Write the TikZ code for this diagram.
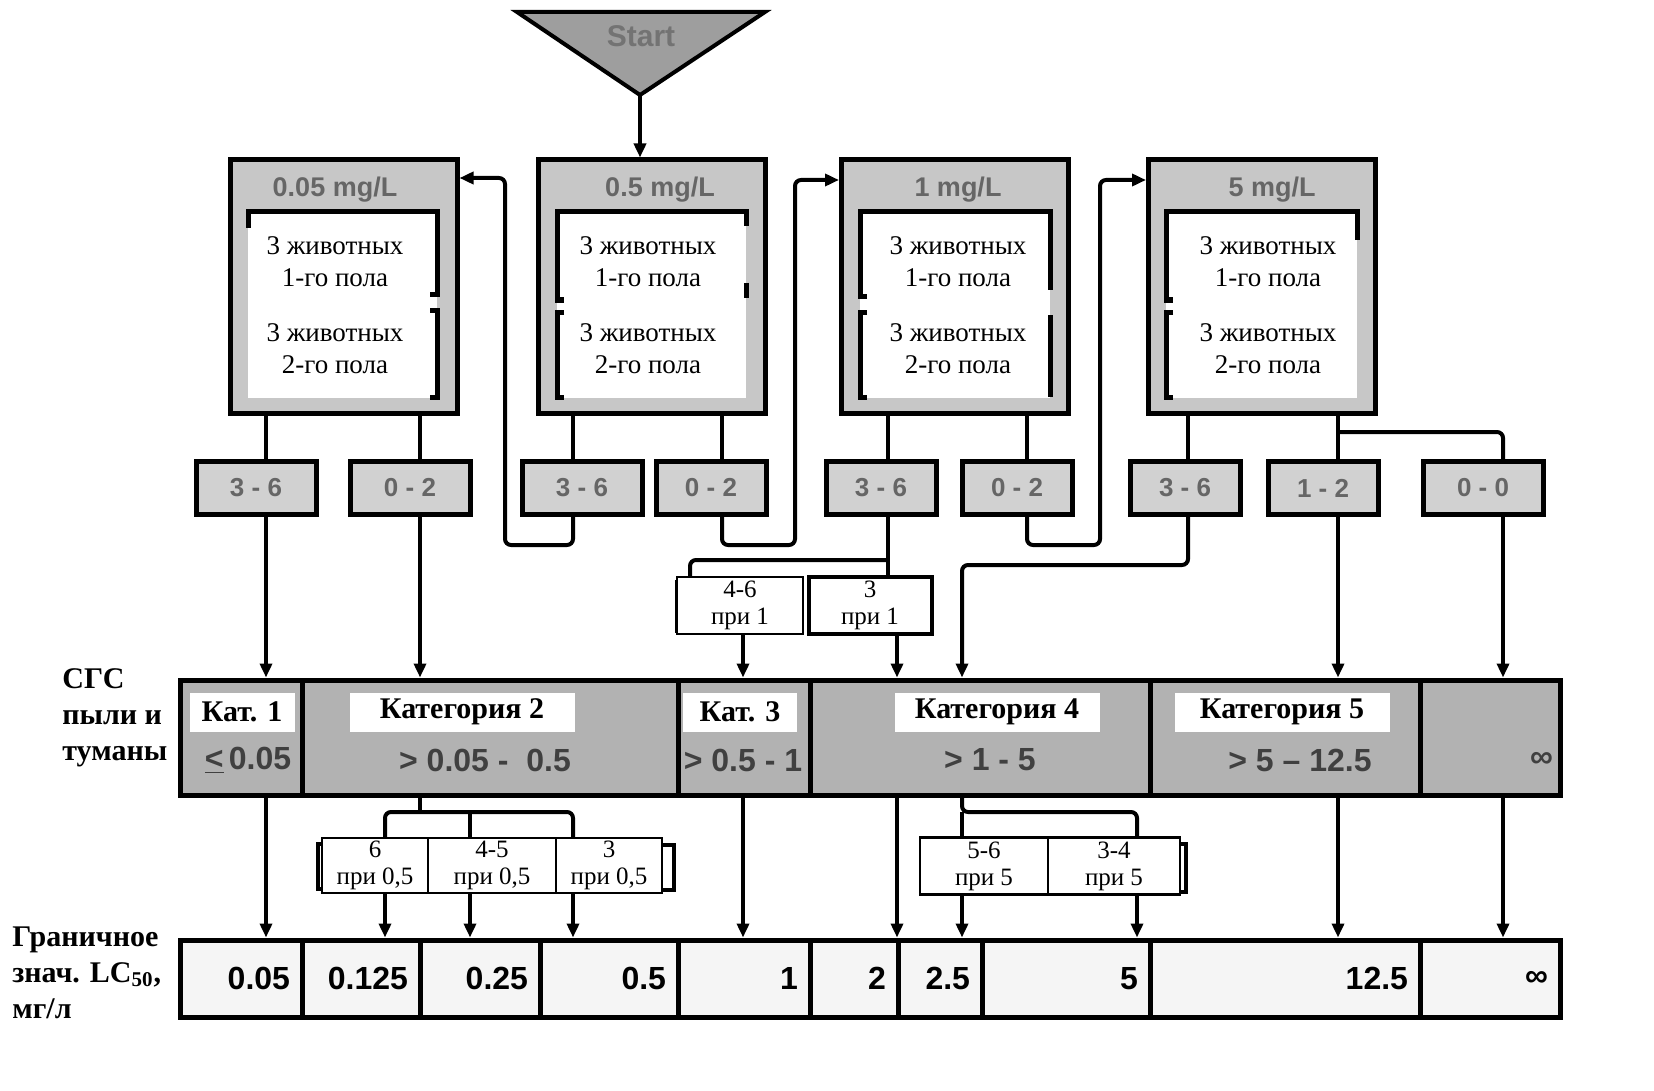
\documentclass[tikz,border=0pt]{standalone}
\usepackage{fontspec}
\setmainfont{Liberation Serif}
\setsansfont{Liberation Sans}
\usetikzlibrary{arrows.meta}
\definecolor{startgray}{gray}{0.62}
\definecolor{framegray}{gray}{0.78}
\definecolor{rangegray}{gray}{0.82}
\definecolor{catgray}{gray}{0.70}
\definecolor{cellgray}{gray}{0.96}
\begin{document}
\begin{tikzpicture}[x=0.5pt,y=-0.5pt,
    >={Triangle[length=7pt,width=6pt]},
    link/.style={line width=2pt,rounded corners=3pt},
    dosebox/.style={draw,line width=2.5pt,fill=framegray,minimum width=113.5pt,minimum height=126.5pt,inner sep=0pt},
    dosetitle/.style={font=\sffamily\bfseries\fontsize{13.5}{16}\selectfont,text=black!60},
    animals/.style={align=center,font=\fontsize{13.5}{16}\selectfont},
    bracket/.style={line width=2.5pt},
    rangebox/.style={draw,line width=2.5pt,fill=rangegray,minimum height=26.5pt,minimum width=60pt,inner sep=0pt,font=\sffamily\bfseries\fontsize{13}{15}\selectfont,text=black!60},
    retest/.style={draw,line width=1.2pt,fill=white,minimum height=28.5pt,inner sep=0.5pt,align=center,font=\fontsize{12.5}{13.5}\selectfont},
    catcell/.style={draw,line width=2.5pt,fill=catgray,minimum height=57.5pt,inner sep=0pt},
    catname/.style={fill=white,minimum height=19.5pt,inner sep=0pt,font=\bfseries\fontsize{15}{18}\selectfont},
    catrange/.style={font=\sffamily\bfseries\fontsize{16}{18}\selectfont,text=black!75},
    limcell/.style={draw,line width=2.5pt,fill=cellgray,minimum height=38.5pt,inner xsep=6pt,inner ysep=0pt,align=right,font=\sffamily\bfseries\fontsize{16}{18}\selectfont},
    rowlabel/.style={align=left,inner sep=0pt,font=\bfseries\fontsize{15}{18}\selectfont}]
    \useasboundingbox (0,0) rectangle (1654,1091);
    %% Start
    \draw[line width=2pt,fill=startgray] (517,12) -- (765,12) -- (640,95) -- cycle;
    \node[font=\sffamily\bfseries\fontsize{15}{18}\selectfont,text=black!55] (start) at (641,36) {Start};
    \coordinate (apex) at (640,95);
    %% dose boxes
    \node[dosebox] (box1) at (343.5,286.5) {};
    \node[dosebox] (box2) at (652,286.5) {};
    \node[dosebox] (box3) at (955,286.5) {};
    \node[dosebox] (box4) at (1262,286.5) {};
    \node[dosetitle] (t1) at (335,190) {0.05 mg/L};
    \node[dosetitle] (t2) at (660,190) {0.5 mg/L};
    \node[dosetitle] (t3) at (958,190) {1 mg/L};
    \node[dosetitle] (t4) at (1272,190) {5 mg/L};
    \fill[white] (248,212) rectangle (437,398);
    \fill[white] (557,212) rectangle (746,398);
    \fill[white] (860,212) rectangle (1050,398);
    \fill[white] (1166,212) rectangle (1357,398);
    %% brackets
    \draw[bracket] (248,228) -- (248,212) -- (437,212) -- (437,295) -- (430,295);
    \draw[bracket] (430,310) -- (437,310) -- (437,397) -- (430,397);
    \draw[bracket] (746,226) -- (746,212) -- (557,212) -- (557,300) -- (564,300);
    \draw[bracket] (564,312) -- (557,312) -- (557,397) -- (564,397);
    \draw[bracket] (746,283) -- (746,298);
    \draw[bracket] (867,297) -- (860,297) -- (860,212) -- (1050,212) -- (1050,290);
    \draw[bracket] (867,312) -- (860,312) -- (860,397) -- (867,397);
    \draw[bracket] (1050,315) -- (1050,397);
    \draw[bracket] (1357,240) -- (1357,212) -- (1166,212) -- (1166,300) -- (1173,300);
    \draw[bracket] (1173,312) -- (1166,312) -- (1166,397) -- (1173,397);
    \node[animals] (a1) at (335,262) {3 животных\\1-го пола};
    \node[animals] (b1) at (335,349) {3 животных\\2-го пола};
    \node[animals] (a2) at (648,262) {3 животных\\1-го пола};
    \node[animals] (b2) at (648,349) {3 животных\\2-го пола};
    \node[animals] (a3) at (958,262) {3 животных\\1-го пола};
    \node[animals] (b3) at (958,349) {3 животных\\2-го пола};
    \node[animals] (a4) at (1268,262) {3 животных\\1-го пола};
    \node[animals] (b4) at (1268,349) {3 животных\\2-го пола};
    %% outcomes
    \node[rangebox] (b1a) at (256,488) {3 - 6};
    \node[rangebox] (b1b) at (410,488) {0 - 2};
    \node[rangebox] (b2a) at (582,488) {3 - 6};
    \node[rangebox,minimum width=55pt] (b2b) at (711,488) {0 - 2};
    \node[rangebox,minimum width=55pt] (b3a) at (881,488) {3 - 6};
    \node[rangebox,minimum width=55pt] (b3b) at (1017,488) {0 - 2};
    \node[rangebox,minimum width=55pt] (b4a) at (1185,488) {3 - 6};
    \node[rangebox,minimum width=55pt] (b4b) at (1323,488) {1 - 2};
    \node[rangebox] (b4c) at (1483,488) {0 - 0};
    %% retest boxes
    \draw[line width=2pt] (683,582) -- (677,582) -- (677,631) -- (683,631);
    \node[retest,minimum width=63pt] (p1a) at (740,605.5) {4-6\\при 1};
    \node[retest,minimum width=61.5pt,line width=2pt] (p1b) at (870,605.5) {3\\при 1};
    \draw[line width=2pt] (325,844) -- (318,844) -- (318,889) -- (325,889);
    \draw[line width=2pt] (662,845) -- (674,845) -- (674,890) -- (662,890);
    \node[retest,minimum width=53pt,minimum height=27.5pt] (q1) at (375,865.5) {6\\при 0,5};
    \node[retest,minimum width=64pt,minimum height=27.5pt] (q2) at (492,865.5) {4-5\\при 0,5};
    \node[retest,minimum width=53pt,minimum height=27.5pt] (q3) at (609,865.5) {3\\при 0,5};
    \draw[line width=2pt] (1180,844) -- (1186,844) -- (1186,892) -- (1180,892);
    \node[retest,minimum width=64pt] (r1) at (984,866) {5-6\\при 5};
    \node[retest,minimum width=66pt] (r2) at (1114,866) {3-4\\при 5};
    %% categories
    \node[catcell,minimum width=61pt] (c1) at (241,737.5) {};
    \node[catcell,minimum width=188pt] (c2) at (490,737.5) {};
    \node[catcell,minimum width=66pt] (c3) at (744,737.5) {};
    \node[catcell,minimum width=170pt] (c4) at (980,737.5) {};
    \node[catcell,minimum width=135pt] (c5) at (1285,737.5) {};
    \node[catcell,minimum width=70pt] (c6) at (1490,737.5) {};
    \node[catname,minimum width=52.5pt] (n1) at (242,712) {Кат. 1};
    \node[catname,minimum width=112.5pt] (n2) at (462,712) {Категория 2};
    \node[catname,minimum width=57pt] (n3) at (740,712) {Кат. 3};
    \node[catname,minimum width=102.5pt] (n4) at (997,712) {Категория 4};
    \node[catname,minimum width=107.5pt] (n5) at (1282,712) {Категория 5};
    \node[catrange] (g1) at (248,760) {\underline{<}\,0.05};
    \node[catrange] (g2) at (485,760) {> 0.05 -\ \ 0.5};
    \node[catrange] (g3) at (743,760) {> 0.5 - 1};
    \node[catrange] (g4) at (990,760) {> 1 - 5};
    \node[catrange] (g5) at (1300,760) {> 5 – 12.5};
    \node[catrange,anchor=east] (g6) at (1560,760) {∞};
    %% limit values
    \node[limcell,text width=49pt] (v1) at (241,978.5) {0.05};
    \node[limcell,text width=47pt] (v2) at (361,978.5) {0.125};
    \node[limcell,text width=48pt] (v3) at (480,978.5) {0.25};
    \node[limcell,text width=57pt] (v4) at (609,978.5) {0.5};
    \node[limcell,text width=54pt] (v5) at (744,978.5) {1};
    \node[limcell,text width=32pt] (v6) at (854,978.5) {2};
    \node[limcell,text width=30pt] (v7) at (940,978.5) {2.5};
    \node[limcell,text width=72pt] (v8) at (1066,978.5) {5};
    \node[limcell,text width=123pt] (v9) at (1285,978.5) {12.5};
    \node[limcell,text width=58pt] (v10) at (1490,978.5) {∞};
    %% row labels
    \node[rowlabel,anchor=north west] (ghs) at (62,668) {СГС\\пыли и\\туманы};
    \node[rowlabel,anchor=north west] (lim) at (12,926) {Граничное\\знач. LC\textsubscript{50},\\мг/л};
    %% line columns
    \coordinate (k1) at (266,0);
    \coordinate (k2) at (420,0);
    \coordinate (k3) at (573,0);
    \coordinate (k4) at (722,0);
    \coordinate (k5) at (888,0);
    \coordinate (k6) at (1027,0);
    \coordinate (k7) at (1188,0);
    \coordinate (k8) at (1338,0);
    \coordinate (k9) at (1503,0);
    \coordinate (k10) at (690,0);
    \coordinate (k11) at (743,0);
    \coordinate (k12) at (897,0);
    \coordinate (k13) at (962,0);
    \coordinate (k14) at (385,0);
    \coordinate (k15) at (470,0);
    \coordinate (k16) at (573,0);
    \coordinate (k17) at (1137,0);
    %% start to first dose
    \draw[link,->] (apex) -- (box2.north -| apex);
    %% doses to outcomes
    \draw[link] (box1.south -| k1) -- (b1a.north -| k1);
    \draw[link] (box1.south -| k2) -- (b1b.north -| k2);
    \draw[link] (box2.south -| k3) -- (b2a.north -| k3);
    \draw[link] (box2.south -| k4) -- (b2b.north -| k4);
    \draw[link] (box3.south -| k5) -- (b3a.north -| k5);
    \draw[link] (box3.south -| k6) -- (b3b.north -| k6);
    \draw[link] (box4.south -| k7) -- (b4a.north -| k7);
    \draw[link] (box4.south -| k8) -- (b4b.north -| k8);
    \draw[link] (k8 |- 0,432) -| (b4c.north -| k9);
    %% next dose
    \draw[link,->] (b2a.south -| k3) |- (505,545) |- (box1.east |- 0,178);
    \draw[link,->] (b2b.south -| k4) |- (795,545) |- (box3.west |- 0,180);
    \draw[link,->] (b3b.south -| k6) |- (1100,545) |- (box4.west |- 0,180);
    %% retests at 1 mg/L
    \draw[link] (b3a.south -| k5) -- (p1b.north -| k5);
    \draw[link] (k5 |- 0,560) -| (p1a.north -| k10);
    %% 3-6 at 5 mg/L
    \draw[link,->] (b4a.south -| k7) |- (k13 |- 0,565) -- (c4.north -| k13);
    %% into categories
    \draw[link,->] (b1a.south -| k1) -- (c1.north -| k1);
    \draw[link,->] (b1b.south -| k2) -- (c2.north -| k2);
    \draw[link,->] (p1a.south -| k11) -- (c3.north -| k11);
    \draw[link,->] (p1b.south -| k12) -- (c4.north -| k12);
    \draw[link,->] (b4b.south -| k8) -- (c5.north -| k8);
    \draw[link,->] (b4c.south -| k9) -- (c6.north -| k9);
    %% categories to limit values
    \draw[link,->] (c1.south -| k1) -- (v1.north -| k1);
    \draw[link] (c2.south -| k2) -- (k2 |- 0,812);
    \draw[link] (q1.north -| k14) -- (k14 |- 0,812) -| (q3.north -| k16);
    \draw[link] (k15 |- 0,812) -- (q2.north -| k15);
    \draw[link,->] (q1.south -| k14) -- (v2.north -| k14);
    \draw[link,->] (q2.south -| k15) -- (v3.north -| k15);
    \draw[link,->] (q3.south -| k16) -- (v4.north -| k16);
    \draw[link,->] (c3.south -| k11) -- (v5.north -| k11);
    \draw[link,->] (c4.south -| k12) -- (v6.north -| k12);
    \draw[link] (c4.south -| k13) -- (k13 |- 0,812) -| (r2.north -| k17);
    \draw[link] (k13 |- 0,812) -- (r1.north -| k13);
    \draw[link,->] (r1.south -| k13) -- (v7.north -| k13);
    \draw[link,->] (r2.south -| k17) -- (v8.north -| k17);
    \draw[link,->] (c5.south -| k8) -- (v9.north -| k8);
    \draw[link,->] (c6.south -| k9) -- (v10.north -| k9);
\end{tikzpicture}
\end{document}
